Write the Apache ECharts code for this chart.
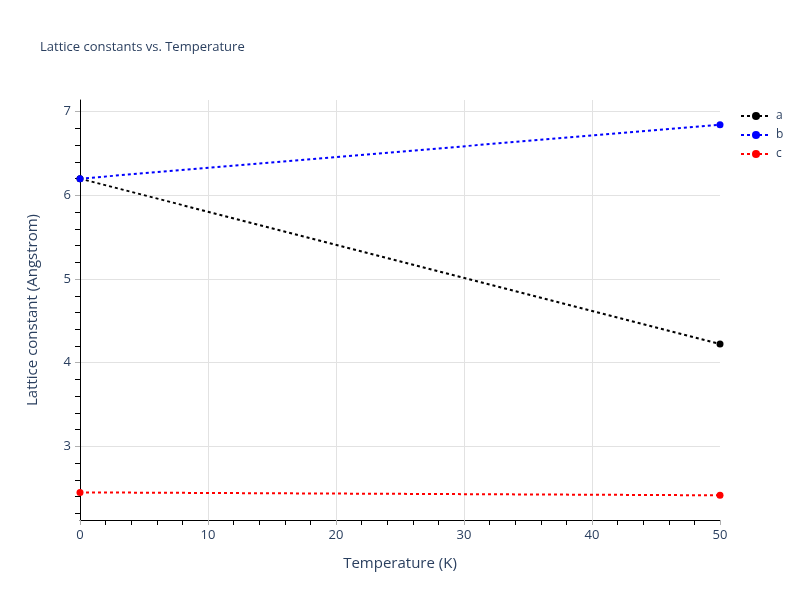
<!DOCTYPE html>
<html>
<head>
<meta charset="utf-8">
<script src="https://cdn.jsdelivr.net/npm/echarts@6/dist/echarts.min.js"></script>
<style>
  html, body { margin: 0; padding: 0; background: #fff; }
  #chart { width: 800px; height: 600px; }
</style>
</head>
<body>
<div id="chart"></div>
<script>
// data
const temps = [0, 50]
const aVals = [6.2, 4.224]
const bVals = [6.2, 6.845]
const cVals = [2.45, 2.415]
const seriesNames = ["a", "b", "c"]
const seriesColors = ["#000000", "#0000ff", "#ff0000"]
const yMajor = [3, 4, 5, 6, 7]
const yMinor = [2.2, 2.4, 2.6, 2.8, 3.2, 3.4, 3.6, 3.8, 4.2, 4.4, 4.6, 4.8,
  5.2, 5.4, 5.6, 5.8, 6.2, 6.4, 6.6, 6.8]
const yMin = 2.12
const yMax = 7.14

const font = '"Open Sans", verdana, arial, sans-serif'
const textColor = "#2a3f5f"
const gridColor = "#e2e2e2"
const majorTickColor = "#b0b0b0"

const pairs = vals => temps.map((t, i) => [t, vals[i]])
const allVals = [aVals, bVals, cVals]

const series = allVals.map((vals, i) => ({
  name: seriesNames[i],
  type: "line",
  data: pairs(vals),
  yAxisIndex: 0,
  symbol: "circle",
  symbolSize: 7,
  clip: false,
  color: seriesColors[i],
  lineStyle: { width: 2, type: [3, 3], color: seriesColors[i] },
  itemStyle: { color: seriesColors[i] },
  emphasis: { disabled: true },
}))

const chart = echarts.init(document.getElementById("chart"), null, { renderer: "canvas" })
chart.setOption({
  animation: false,
  textStyle: { fontFamily: font },
  title: {
    text: "Lattice constants vs. Temperature",
    left: 35,
    top: 36,
    textStyle: { fontFamily: font, fontSize: 13, fontWeight: "normal", color: textColor },
  },
  legend: {
    orient: "vertical",
    left: 735,
    top: 105,
    itemWidth: 30,
    itemHeight: 10,
    itemGap: 7,
    data: seriesNames,
    textStyle: { fontFamily: font, fontSize: 12, color: textColor },
  },
  grid: { left: 80, right: 80, top: 100, bottom: 80, containLabel: false },
  xAxis: {
    type: "value",
    min: 0,
    max: 50,
    interval: 10,
    name: "Temperature (K)",
    nameLocation: "middle",
    nameGap: 36,
    nameTextStyle: { fontFamily: font, fontSize: 15, color: textColor },
    axisLine: { show: true, onZero: false, lineStyle: { color: "#000", width: 1 } },
    axisTick: { show: true, length: 5, lineStyle: { color: majorTickColor } },
    minorTick: { show: true, splitNumber: 5, length: 5, lineStyle: { color: "#000" } },
    axisLabel: { fontSize: 13, color: textColor, margin: 9, fontFamily: font },
    splitLine: { show: true, showMinLine: false, showMaxLine: false, lineStyle: { color: gridColor, width: 1 } },
  },
  yAxis: [
    {
      type: "value",
      min: yMin,
      max: yMax,
      name: "Lattice constant (Angstrom)",
      nameLocation: "middle",
      nameGap: 40,
      nameTextStyle: { fontFamily: font, fontSize: 15, color: textColor },
      axisLine: { show: true, onZero: false, lineStyle: { color: "#000", width: 1 } },
      axisTick: { show: true, length: 5, customValues: yMinor, lineStyle: { color: "#000" } },
      axisLabel: { fontSize: 13, color: textColor, margin: 9, customValues: yMajor, fontFamily: font },
      splitLine: { show: false },
    },
    {
      type: "value",
      min: yMin,
      max: yMax,
      position: "left",
      axisLine: { show: false },
      axisTick: { show: true, length: 5, customValues: yMajor, lineStyle: { color: majorTickColor } },
      axisLabel: { show: false, customValues: yMajor },
      splitLine: { show: true, lineStyle: { color: gridColor, width: 1 } },
    },
  ],
  series: series,
})
</script>
</body>
</html>
